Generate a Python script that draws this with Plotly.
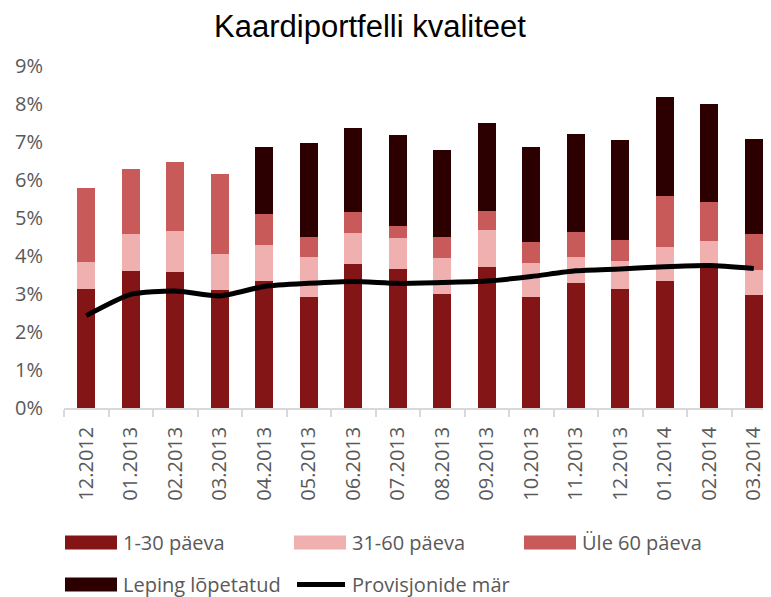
import plotly.graph_objects as go

# ---------------- data ----------------
categories = ["12.2012", "01.2013", "02.2013", "03.2013", "04.2013", "05.2013",
              "06.2013", "07.2013", "08.2013", "09.2013", "10.2013", "11.2013",
              "12.2013", "01.2014", "02.2014", "03.2014"]
paeva_1_30 = [3.13, 3.60, 3.58, 3.11, 3.33, 2.93, 3.79, 3.66, 3.00, 3.71, 2.92, 3.29, 3.13, 3.34, 3.78, 2.98]
paeva_31_60 = [0.71, 0.99, 1.08, 0.94, 0.96, 1.04, 0.81, 0.82, 0.95, 0.97, 0.90, 0.69, 0.74, 0.90, 0.62, 0.66]
ule_60 = [1.94, 1.70, 1.81, 2.10, 0.81, 0.54, 0.55, 0.32, 0.55, 0.50, 0.55, 0.66, 0.54, 1.34, 1.01, 0.95]
leping = [0, 0, 0, 0, 1.77, 2.46, 2.23, 2.38, 2.29, 2.32, 2.50, 2.58, 2.65, 2.60, 2.60, 2.50]
provisjonid = [2.43, 2.99, 3.08, 2.95, 3.20, 3.28, 3.33, 3.28, 3.30, 3.34, 3.46, 3.61, 3.66, 3.72, 3.75, 3.67]

bar_names = ["1-30 päeva", "31-60 päeva", "Üle 60 päeva", "Leping lõpetatud"]
line_name = "Provisjonide mär"
bar_colors = ["#841517", "#F0B0AF", "#C85A5A", "#2C0000"]
line_color = "#000000"
y_ticks = [0, 1, 2, 3, 4, 5, 6, 7, 8, 9]
title_text = "Kaardiportfelli kvaliteet"

# ---------------- figure ----------------
# page body has an 8px default margin, so the figure is sized to fit the window
OFF = 8
W, H = 771 - OFF, 597 - OFF
ML, MR, MT = 64 - OFF, 0, 66 - OFF
MB = H - (408 - OFF)
plot_w = W - ML - MR
plot_h = H - MT - MB
cat_px = 44.5

fig = go.Figure()
for name, vals, col in zip(bar_names, [paeva_1_30, paeva_31_60, ule_60, leping], bar_colors):
    fig.add_trace(go.Bar(x=categories, y=vals, name=name, marker=dict(color=col, line=dict(width=0)),
                         width=0.41, showlegend=False))
fig.add_trace(go.Scatter(x=categories, y=provisjonid, name=line_name, mode="lines",
                         line=dict(color=line_color, width=5, shape="spline", smoothing=0.6),
                         showlegend=False))

xmax = -0.5 + plot_w / cat_px
font_family = "Open Sans, Noto Sans, sans-serif"

fig.update_layout(
    width=W, height=H,
    margin=dict(l=ML, r=MR, t=MT, b=MB, autoexpand=False),
    barmode="stack",
    plot_bgcolor="white", paper_bgcolor="white",
    title=dict(text=title_text, x=(370 - OFF) / W, xanchor="center", xref="container",
               y=1 - (26 - OFF) / H, yref="container", yanchor="middle",
               font=dict(family="Liberation Sans, Arial, sans-serif", size=31, color="#000000")),
    xaxis=dict(type="category", range=[-0.5, xmax], showgrid=False, automargin=False,
               showline=True, linecolor="#D9D9D9", linewidth=1.5,
               ticks="outside", tickson="boundaries", ticklen=7, tickcolor="#D9D9D9", tickwidth=1.5,
               tickangle=-90, ticklabelstandoff=9,
               tickfont=dict(family=font_family, size=20, color="#595959")),
    yaxis=dict(range=[0, 9], tickvals=y_ticks, ticktext=[f"{v}%" for v in y_ticks],
               showgrid=False, zeroline=False, showline=False, ticks="", automargin=False,
               ticklabelstandoff=20,
               tickfont=dict(family=font_family, size=20, color="#595959")),
)

# ---------------- manual legend (positions in window pixels) ----------------
def px_x(px):
    return (px - OFF - ML) / plot_w

def px_y(py):
    return (H - MB - (py - OFF)) / plot_h

legend_items = [
    (bar_names[0], bar_colors[0], "bar", 65, 542.5),
    (bar_names[1], bar_colors[1], "bar", 294, 542.5),
    (bar_names[2], bar_colors[2], "bar", 524, 542.5),
    (bar_names[3], bar_colors[3], "bar", 65, 584.5),
    (line_name, line_color, "line", 294, 584.5),
]
for name, col, kind, x0, yc in legend_items:
    if kind == "bar":
        fig.add_shape(type="rect", xref="paper", yref="paper",
                      x0=px_x(x0), x1=px_x(x0 + 52), y0=px_y(yc - 7), y1=px_y(yc + 7),
                      fillcolor=col, line=dict(width=0), layer="above")
    else:
        fig.add_shape(type="line", xref="paper", yref="paper",
                      x0=px_x(x0 + 3), x1=px_x(x0 + 51), y0=px_y(yc), y1=px_y(yc),
                      line=dict(color=col, width=5), layer="above")
    fig.add_annotation(text=name, xref="paper", yref="paper", x=px_x(x0 + 56), y=px_y(yc),
                       xanchor="left", yanchor="middle", showarrow=False,
                       font=dict(family=font_family, size=20, color="#595959"))

fig.write_html("out.html")
